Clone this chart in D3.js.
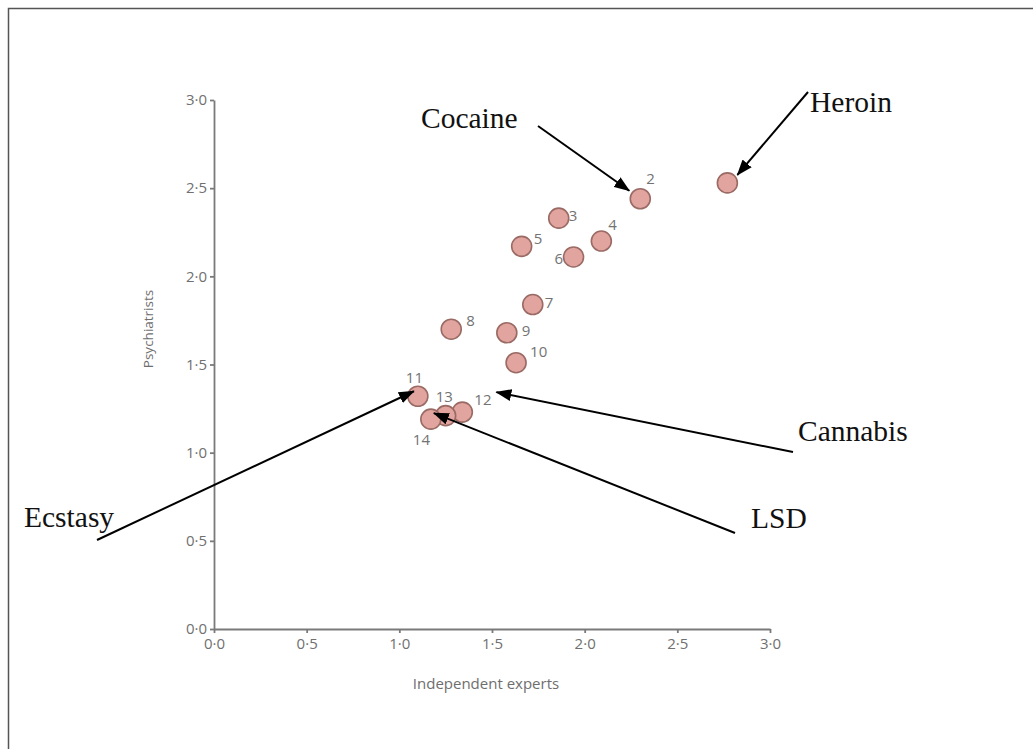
<!DOCTYPE html>
<html>
<head>
<meta charset="utf-8">
<script src="https://cdn.jsdelivr.net/npm/d3@7"></script>
<style>
  html, body { margin: 0; padding: 0; background: #fff; }
  svg { display: block; }
  .axis path, .axis line { stroke: #7a7a7a; stroke-width: 1.8; }
  .axis text { fill: #707070; font-family: "Open Sans", sans-serif; font-size: 15px; }
</style>
</head>
<body>
<svg id="chart" width="1033" height="749"></svg>
<script>
// drug rank (1 = heroin) and mean harm scores from the two panels
const ranks = [1, 2, 3, 4, 5, 6, 7, 8, 9, 10, 11, 12, 13, 14];
const experts = [2.77, 2.30, 1.86, 2.09, 1.66, 1.94, 1.72, 1.28, 1.58, 1.63, 1.10, 1.34, 1.25, 1.17];
const psychiatrists = [2.53, 2.44, 2.33, 2.20, 2.17, 2.11, 1.84, 1.70, 1.68, 1.51, 1.32, 1.23, 1.21, 1.19];
const tickValues = [0, 0.5, 1, 1.5, 2, 2.5, 3];

const drugNames = ["Heroin", "Cocaine", "Cannabis", "LSD", "Ecstasy"];
const drugTargets = [1, 2, 12, 14, 11];

// layout: where the number sits next to each dot
const numOffsets = [null, [6, -15], [10, 3], [7, -11], [12, -2], [-19, 7], [12, 3], [15, -3], [15, 3], [14, -6], [-12, -13], [12, -7], [-10, -14], [-18, 26]];
// layout: label text (x, baseline), arrow start, arrow tip offset from the dot
const noteText = [[810, 112], [421, 128], [798, 441], [751, 528], [24, 527]];
const noteFrom = [[808, 92], [538, 126], [793, 452], [735, 533], [97, 540]];
const noteTip = [[10, -8], [-11, -8], [34, -20], [3, -6], [-4, -5]];

const svg = d3.select("#chart");

// page frame (top + left only)
svg.append("path")
  .attr("d", "M8.5,749 L8.5,8.5 L1033,8.5")
  .attr("fill", "none").attr("stroke", "#555").attr("stroke-width", 1.5);

const x = d3.scaleLinear().domain([0, 3]).range([214, 770]);
const y = d3.scaleLinear().domain([0, 3]).range([629, 100]);
const fmt = d => d3.format(".1f")(d).replace(".", "\u00b7");

svg.append("g").attr("class", "axis")
  .attr("transform", "translate(0,629)")
  .call(d3.axisBottom(x).tickValues(tickValues).tickFormat(fmt).tickSize(4).tickSizeOuter(0).tickPadding(5));
svg.append("g").attr("class", "axis")
  .attr("transform", "translate(214,0)")
  .call(d3.axisLeft(y).tickValues(tickValues).tickFormat(fmt).tickSize(4).tickSizeOuter(0).tickPadding(3));

svg.append("text")
  .attr("x", 486).attr("y", 689)
  .attr("text-anchor", "middle")
  .attr("fill", "#6e6e6e")
  .style("font-family", "Open Sans, sans-serif").style("font-size", "15px")
  .text("Independent experts");
svg.append("text")
  .attr("transform", "translate(153,329) rotate(-90)")
  .attr("text-anchor", "middle")
  .attr("fill", "#6e6e6e")
  .style("font-family", "Open Sans, sans-serif").style("font-size", "13.5px")
  .text("Psychiatrists");

// dots
svg.append("g").selectAll("circle")
  .data(ranks)
  .join("circle")
  .attr("cx", (d, i) => x(experts[i]))
  .attr("cy", (d, i) => y(psychiatrists[i]))
  .attr("r", 10)
  .attr("fill", "#e2a49f")
  .attr("stroke", "#9a6a64")
  .attr("stroke-width", 1.6);

svg.append("g").selectAll("text")
  .data(ranks.filter((d, i) => numOffsets[i]))
  .join("text")
  .attr("x", d => x(experts[d - 1]) + numOffsets[d - 1][0])
  .attr("y", d => y(psychiatrists[d - 1]) + numOffsets[d - 1][1])
  .attr("fill", "#737373")
  .style("font-family", "Open Sans, sans-serif").style("font-size", "15px")
  .text(d => d);

// arrows
svg.append("defs").append("marker")
  .attr("id", "head")
  .attr("viewBox", "0 0 16 12")
  .attr("refX", 15).attr("refY", 6)
  .attr("markerWidth", 16).attr("markerHeight", 12)
  .attr("markerUnits", "userSpaceOnUse")
  .attr("orient", "auto")
  .append("path").attr("d", "M0,0 L16,6 L0,12 Z").attr("fill", "#000");

drugNames.forEach((name, i) => {
  const k = drugTargets[i] - 1;
  const tx = x(experts[k]) + noteTip[i][0];
  const ty = y(psychiatrists[k]) + noteTip[i][1];
  svg.append("line")
    .attr("x1", noteFrom[i][0]).attr("y1", noteFrom[i][1])
    .attr("x2", tx).attr("y2", ty)
    .attr("stroke", "#000").attr("stroke-width", 2)
    .attr("marker-end", "url(#head)");
  svg.append("text")
    .attr("x", noteText[i][0]).attr("y", noteText[i][1])
    .attr("fill", "#111")
    .style("font-family", "Liberation Serif, Times New Roman, serif").style("font-size", "29.5px")
    .text(name);
});
</script>
</body>
</html>
